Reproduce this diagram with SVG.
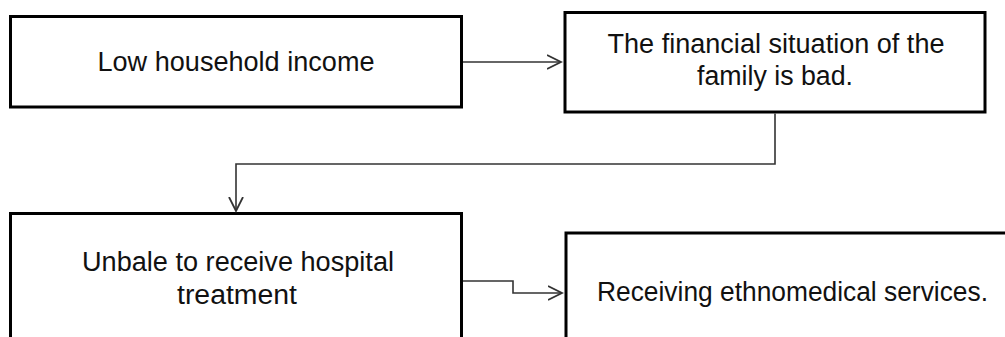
<svg xmlns="http://www.w3.org/2000/svg" width="1005" height="337" viewBox="0 0 1005 337">
  <style>
    .box { fill: #ffffff; stroke: #000000; stroke-width: 3; }
    .lbl { font-family: "Liberation Sans", Arial, sans-serif; font-size: 27px; fill: #111111; }
    .conn { fill: none; stroke: #333333; stroke-width: 1.6; }
  </style>
  <defs>
    <marker id="arr" markerUnits="userSpaceOnUse" markerWidth="16" markerHeight="16" refX="14" refY="7" orient="auto" viewBox="0 0 16 14">
      <path d="M0,0 L14,7 L0,14" fill="none" stroke="#333333" stroke-width="1.8"/>
    </marker>
  </defs>
  <rect x="0" y="0" width="1005" height="337" fill="#ffffff"/>

  <g id="node-low-income">
    <rect class="box" x="10.5" y="16.5" width="451" height="90.5"/>
    <text class="lbl" x="236" y="71" text-anchor="middle" textLength="277" lengthAdjust="spacingAndGlyphs">Low household income</text>
  </g>

  <g id="node-financial">
    <rect class="box" x="565" y="12.5" width="420" height="99.5"/>
    <text class="lbl" x="776" y="53" text-anchor="middle" textLength="337" lengthAdjust="spacingAndGlyphs">The financial situation of the</text>
    <text class="lbl" x="775" y="85" text-anchor="middle" textLength="156" lengthAdjust="spacingAndGlyphs">family is bad.</text>
  </g>

  <g id="node-unable">
    <rect class="box" x="10.5" y="213.5" width="451" height="140"/>
    <text class="lbl" x="238" y="271" text-anchor="middle" textLength="312" lengthAdjust="spacingAndGlyphs">Unbale to receive hospital</text>
    <text class="lbl" x="237" y="304" text-anchor="middle" textLength="120" lengthAdjust="spacingAndGlyphs">treatment</text>
  </g>

  <g id="node-ethnomedical">
    <rect class="box" x="566" y="233" width="450" height="130"/>
    <text class="lbl" x="597" y="301" textLength="391" lengthAdjust="spacingAndGlyphs">Receiving ethnomedical services.</text>
  </g>

  <g id="connectors">
    <path class="conn" d="M463,62 L561,62" marker-end="url(#arr)"/>
    <path class="conn" d="M775,113.5 L775,164 L236,164 L236,211" marker-end="url(#arr)"/>
    <path class="conn" d="M463,281 L513,281 L513,293 L562,293" marker-end="url(#arr)"/>
  </g>
</svg>
